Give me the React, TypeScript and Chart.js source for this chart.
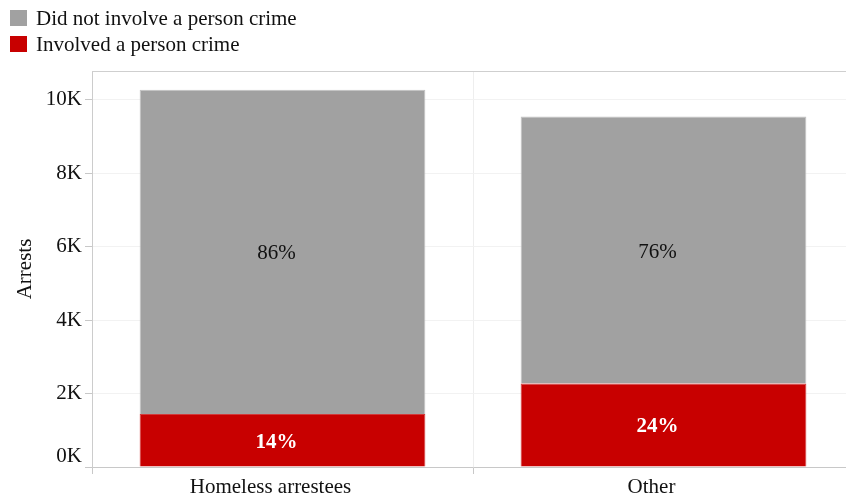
import React, { useEffect, useRef } from 'react';
import { Chart, registerables } from 'chart.js';

Chart.register(...registerables);

const categories = ['Homeless arrestees', 'Other'];
const involvedPerson = [1440, 2270];
const notInvolvedPerson = [8830, 7270];
const yTickValues = [0, 2000, 4000, 6000, 8000, 10000];
const legendLabels = ['Did not involve a person crime', 'Involved a person crime'];
const seriesColors = ['#a1a1a1', '#c80000'];
const Y_MAX = 10780;

const FONT = '"Liberation Serif", "Times New Roman", serif';
const FS = 21;

const pctLabel = (ds: number, i: number) => {
  const total = involvedPerson[i] + notInvolvedPerson[i];
  const v = ds === 0 ? involvedPerson[i] : notInvolvedPerson[i];
  return Math.round((v / total) * 100) + '%';
};

const extrasPlugin = {
  id: 'extras',
  beforeDatasetsDraw(chart: any) {
    const { ctx, chartArea } = chart;
    ctx.save();
    ctx.strokeStyle = '#cfcfcf';
    ctx.lineWidth = 1;
    ctx.beginPath();
    ctx.moveTo(chartArea.left, chartArea.top + 0.5);
    ctx.lineTo(chartArea.right, chartArea.top + 0.5);
    ctx.stroke();
    ctx.restore();
  },
  afterDatasetsDraw(chart: any) {
    const { ctx } = chart;
    ctx.save();
    ctx.textAlign = 'center';
    ctx.textBaseline = 'middle';
    chart.data.datasets.forEach((_ds: any, di: number) => {
      const meta = chart.getDatasetMeta(di);
      meta.data.forEach((el: any, i: number) => {
        const { x, y, base } = el.getProps(['x', 'y', 'base'], true);
        ctx.fillStyle = di === 0 ? '#ffffff' : '#111111';
        ctx.font = (di === 0 ? 'bold ' : '') + FS + 'px ' + FONT;
        ctx.fillText(pctLabel(di, i), x - 6, (y + base) / 2 + 2);
      });
    });
    ctx.restore();
  },
  afterDraw(chart: any) {
    const { ctx, chartArea } = chart;
    const yScale = chart.scales.y;
    ctx.save();
    ctx.fillStyle = '#111111';
    ctx.font = FS + 'px ' + FONT;
    ctx.textAlign = 'right';
    ctx.textBaseline = 'middle';
    ctx.fillText('0K', chartArea.left - 10, yScale.getPixelForValue(0) - 11);
    ctx.restore();
  },
};

export default function App() {
  const canvasRef = useRef<HTMLCanvasElement | null>(null);

  useEffect(() => {
    if (!canvasRef.current) return;
    const chart = new Chart(canvasRef.current, {
      type: 'bar',
      data: {
        labels: categories,
        datasets: [
          {
            label: legendLabels[1],
            data: involvedPerson,
            backgroundColor: seriesColors[1],
            borderColor: '#d23a3a',
            borderWidth: 1,
            barPercentage: 0.75,
            categoryPercentage: 1,
          },
          {
            label: legendLabels[0],
            data: notInvolvedPerson,
            backgroundColor: seriesColors[0],
            borderColor: '#c2c2c2',
            borderWidth: 1,
            barPercentage: 0.75,
            categoryPercentage: 1,
          },
        ],
      },
      options: {
        animation: false,
        responsive: false,
        layout: { padding: { top: 71, left: 0, right: 16, bottom: 0 } },
        plugins: {
          legend: { display: false },
          tooltip: { enabled: false },
        },
        scales: {
          x: {
            stacked: true,
            afterFit: (s: any) => {
              s.height = 31;
            },
            grid: {
              offset: true,
              color: '#eeeeee',
              tickColor: '#c8c8c8',
              tickLength: 7,
            },
            border: { color: '#c8c8c8' },
            ticks: {
              color: '#111111',
              font: { family: FONT, size: FS },
              padding: 1,
              labelOffset: -12,
              maxRotation: 0,
            },
          },
          y: {
            stacked: true,
            min: 0,
            max: Y_MAX,
            afterFit: (s: any) => {
              s.width = 92;
            },
            afterBuildTicks: (s: any) => {
              s.ticks = yTickValues.map((v) => ({ value: v }));
            },
            grid: {
              color: '#f2f2f2',
              tickColor: '#c8c8c8',
              tickLength: 7,
            },
            border: { color: '#cccccc' },
            ticks: {
              color: '#111111',
              font: { family: FONT, size: FS },
              padding: 3,
              callback: (v: any) => (v === 0 ? '' : v / 1000 + 'K'),
            },
            title: {
              display: true,
              text: 'Arrests',
              color: '#111111',
              font: { family: FONT, size: FS },
              padding: { top: 13, bottom: 0 },
            },
          },
        },
      },
      plugins: [extrasPlugin],
    });
    return () => chart.destroy();
  }, []);

  const legendRow = (label: string, color: string, top: number) => (
    <div
      key={label}
      style={{
        position: 'absolute',
        left: 10,
        top,
        height: 20,
        display: 'flex',
        alignItems: 'center',
        fontFamily: FONT,
        fontSize: FS,
        color: '#111111',
        whiteSpace: 'nowrap',
      }}
    >
      <span
        style={{
          display: 'inline-block',
          width: 17,
          height: 16,
          background: color,
          marginRight: 9,
        }}
      />
      <span>{label}</span>
    </div>
  );

  return (
    <div
      style={{
        position: 'fixed',
        left: 0,
        top: 0,
        width: 846,
        height: 498,
        overflow: 'hidden',
        background: '#ffffff',
      }}
    >
      <canvas
        ref={canvasRef}
        width={870}
        height={498}
        style={{ position: 'absolute', left: 0, top: 0, width: 870, height: 498 }}
      />
      {legendRow(legendLabels[0], seriesColors[0], 8)}
      {legendRow(legendLabels[1], seriesColors[1], 34)}
    </div>
  );
}
